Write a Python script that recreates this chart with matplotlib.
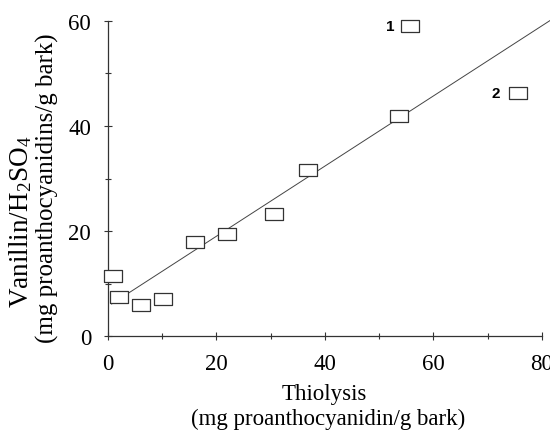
import matplotlib
matplotlib.use("Agg")
import matplotlib.pyplot as plt
from matplotlib.ticker import MultipleLocator

plt.rcParams["mathtext.fontset"] = "custom"
plt.rcParams["mathtext.rm"] = "Liberation Serif"
plt.rcParams["mathtext.it"] = "Liberation Serif:italic"

# Data
thiolysis = [1.0, 2.1, 6.1, 10.1, 16.0, 22.0, 30.7, 36.9, 53.7, 55.6, 75.6]
vanillin = [11.5, 7.4, 5.9, 7.0, 18.0, 19.4, 23.2, 31.6, 41.9, 59.1, 46.3]
outlier_labels = ["1", "2"]
outlier_idx = [9, 10]
fit_x = [0.7, 81.5]
fit_y = [6.1, 60.1]
x_ticks = [0, 20, 40, 60, 80]
y_ticks = [0, 20, 40, 60]

serif = ["Liberation Serif", "DejaVu Serif"]

fig = plt.figure(figsize=(5.5, 4.31), dpi=100)
ax = fig.add_axes([0.196, 0.218, 0.7895, 0.731])

ax.plot(fit_x, fit_y, color="#444444", lw=0.7, clip_on=False, zorder=2)

rect = [(-1, -0.75), (1, -0.75), (1, 0.75), (-1, 0.75), (-1, -0.75)]
ax.scatter(thiolysis, vanillin, marker=rect, s=150, facecolor="white",
           edgecolor="#333333", linewidths=0.9, clip_on=False, zorder=3)

for lab, i, off in zip(outlier_labels, outlier_idx, [-14, -16]):
    ax.annotate(lab, (thiolysis[i], vanillin[i]), xytext=(off, 0),
                textcoords="offset points", ha="center", va="center",
                fontsize=11, fontweight="bold", family="Liberation Sans")

ax.set_xlim(0, 80)
ax.set_ylim(0, 60)
ax.set_xticks(x_ticks)
ax.set_yticks(y_ticks)
ax.xaxis.set_minor_locator(MultipleLocator(10))
ax.yaxis.set_minor_locator(MultipleLocator(10))
ax.tick_params(which="both", direction="inout", width=0.8, color="#333333")
ax.tick_params(which="major", length=6, labelsize=16.5, pad=9)
ax.tick_params(which="minor", length=5)
for t in ax.get_xticklabels() + ax.get_yticklabels():
    t.set_family(serif)

for s in ["top", "right"]:
    ax.spines[s].set_visible(False)
for s in ["left", "bottom"]:
    ax.spines[s].set_linewidth(0.9)
    ax.spines[s].set_color("#333333")

fig.text(324.5 / 550, 1 - 395 / 431, "Thiolysis", ha="center", va="center",
         fontsize=16.5, family=serif)
fig.text(328 / 550, 1 - 419 / 431, "(mg proanthocyanidin/g bark)", ha="center",
         va="center", fontsize=16.5, family=serif)
fig.text(21 / 550, 1 - 222 / 431, "Vanillin/H$_2$SO$_4$", rotation=90,
         ha="center", va="center", fontsize=19.5, family=serif)
fig.text(47 / 550, 1 - 188 / 431, "(mg proanthocyanidins/g bark)", rotation=90,
         ha="center", va="center", fontsize=18, family=serif)

fig.savefig("out.png", dpi=100)
